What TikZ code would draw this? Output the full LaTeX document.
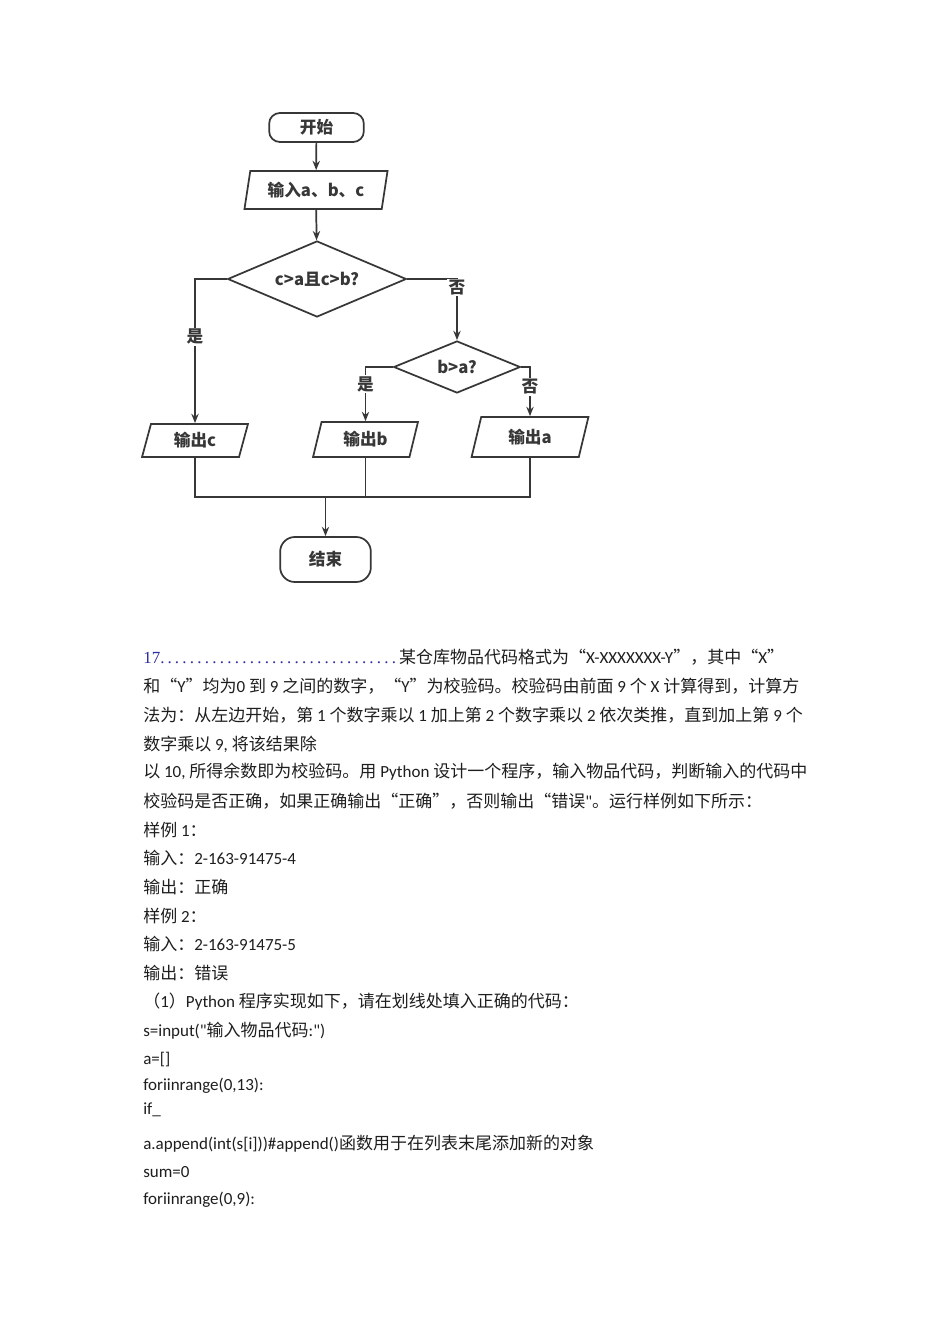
\documentclass[tikz,border=0pt]{standalone}
\usepackage{fontspec}
\usepackage{xcolor}
\usepackage{tikz}
\usetikzlibrary{arrows.meta, shapes.geometric, positioning}
\setmainfont{Carlito}[Ligatures=TeXOff]
\newfontfamily\zhfont{Noto Sans CJK SC}
\newfontfamily\numfont{Liberation Serif}
\newcommand{\zh}[1]{{\zhfont #1}}
\definecolor{qblue}{RGB}{45, 45, 160}
\definecolor{flowgray}{RGB}{55, 55, 55}
\definecolor{inkgray}{RGB}{30, 30, 30}

\tikzset{
  flowtext/.style={font=\zhfont\bfseries\fontsize{12.5}{14}\selectfont, text=flowgray},
  terminal/.style={draw=flowgray, line width=1.3pt, rectangle, rounded corners=8pt, flowtext},
  iobox/.style={draw=flowgray, line width=1.3pt, trapezium, trapezium left angle=75,
                trapezium right angle=105, trapezium stretches=true, inner sep=0pt, flowtext},
  decision/.style={draw=flowgray, line width=1.3pt, diamond, aspect=2.4, inner sep=0pt, flowtext},
  link/.style={draw=flowgray, line width=1.3pt},
  arr/.style={link, -{Stealth[length=7pt, width=5.5pt]}},
  branch/.style={fill=white, inner sep=1pt, flowtext},
  txtline/.style={anchor=west, inner sep=0pt, text=inkgray, font=\fontsize{12.75}{15}\selectfont}
}

\begin{document}
\begin{tikzpicture}[x=0.75pt, y=-0.75pt]
  \useasboundingbox[fill=white] (0,0) rectangle (950,1344);

  % flowchart
  \node[terminal, minimum width=71pt, minimum height=21.75pt] (start) at (316.5,127.5) {开始};
  \node[iobox, minimum width=108pt, minimum height=28.5pt] (input) at (316,190) {输入a、b、c};
  \node[decision, minimum width=134pt, minimum height=57pt] (d1) at (317,279) {c>a且c>b?};
  \node[decision, minimum width=95pt, minimum height=39pt] (d2) at (457,367) {b>a?};
  \node[iobox, minimum width=79.5pt, minimum height=24.75pt] (outc) at (195,440.5) {输出c};
  \node[iobox, minimum width=78.75pt, minimum height=26.25pt] (outb) at (365.5,439.5) {输出b};
  \node[iobox, minimum width=87.75pt, minimum height=30pt] (outa) at (530,437) {输出a};
  \node[terminal, rounded corners=11pt, minimum width=68pt, minimum height=33.75pt] (stop) at (325.5,559.5) {结束};
  \coordinate (join) at (325.5,497);

  \draw[arr] (start) -- (input);
  \draw[arr] (input) -- (d1);
  \draw[arr] (d1.west) -| node[branch, pos=0.7] {是} (outc.north);
  \draw[arr] (d1.east) -| node[branch, pos=0.57] {否} (d2.north);
  \draw[arr] (d2.west) -| node[branch, pos=0.66] {是} (outb.north);
  \draw[arr] (d2.east) -| node[branch, pos=0.7] {否} (outa.north);
  \draw[link] (outc.south) |- (join);
  \draw[link] (outa.south) |- (join);
  \draw[flowgray, line width=0.7pt] (outb.south) -- (outb.south |- join);
  \draw[arr] (join) -- (stop);

  % question text
  \node[txtline] (l1) at (143,657) {\textcolor{qblue}{\numfont 17.\hbox to 176pt{\dotfill}}\zh{某仓库物品代码格式为“}X-XXXXXXX-Y\zh{”，其中“}X\zh{”}};
  \node[txtline] (l2) at (143,686) {\zh{和“}Y\zh{”均为}0 \zh{到} 9 \zh{之间的数字，“}Y\zh{”为校验码。校验码由前面} 9 \zh{个} X \zh{计算得到，计算方}};
  \node[txtline] (l3) at (143,715) {\zh{法为：从左边开始，第} 1 \zh{个数字乘以} 1 \zh{加上第} 2 \zh{个数字乘以} 2 \zh{依次类推，直到加上第} 9 \zh{个}};
  \node[txtline] (l4) at (143,744) {\zh{数字乘以} 9, \zh{将该结果除}};
  \node[txtline] (l5) at (143,772) {\zh{以} 10, \zh{所得余数即为校验码。用} Python \zh{设计一个程序，输入物品代码，判断输入的代码中}};
  \node[txtline] (l6) at (143,801) {\zh{校验码是否正确，如果正确输出“正确”，否则输出“错误}"\zh{。运行样例如下所示：}};
  \node[txtline] (l7) at (143,830) {\zh{样例} 1\zh{：}};
  \node[txtline] (l8) at (143,858) {\zh{输入：}2-163-91475-4};
  \node[txtline] (l9) at (143,887) {\zh{输出：正确}};
  \node[txtline] (l10) at (143,916) {\zh{样例} 2\zh{：}};
  \node[txtline] (l11) at (143,944) {\zh{输入：}2-163-91475-5};
  \node[txtline] (l12) at (143,973) {\zh{输出：错误}};
  \node[txtline] (l13) at (143,1002) {\zh{（}1\zh{）}Python \zh{程序实现如下，请在划线处填入正确的代码：}};
  \node[txtline] (l14) at (143,1031) {s=input("\zh{输入物品代码}:")};
  \node[txtline] (l15) at (143,1060) {a=[]};
  \node[txtline] (l16) at (143,1086) {foriinrange(0,13):};
  \node[txtline] (l17) at (143,1110) {if\_};
  \node[txtline] (l18) at (143,1144) {a.append(int(s[i]))\#append()\zh{函数用于在列表末尾添加新的对象}};
  \node[txtline] (l19) at (143,1172) {sum=0};
  \node[txtline] (l20) at (143,1200) {foriinrange(0,9):};
\end{tikzpicture}
\end{document}
